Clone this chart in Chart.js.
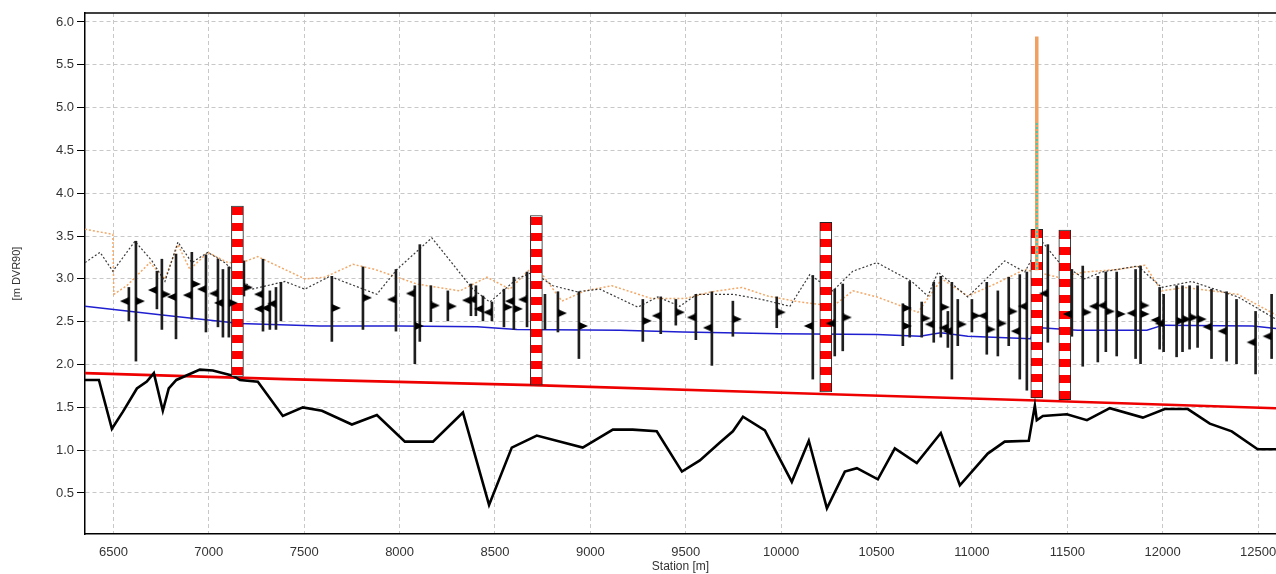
<!DOCTYPE html>
<html>
<head>
<meta charset="utf-8">
<script src="https://cdn.jsdelivr.net/npm/chart.js@4.4.1/dist/chart.umd.min.js"></script>
<style>
  html, body { margin: 0; padding: 0; background: #fff; }
</style>
</head>
<body>
<canvas id="profileChart" width="1276" height="574"></canvas>
<script>
// longitudinal profile, station [m] vs level [m DVR90]
const xTicks = [6500, 7000, 7500, 8000, 8500, 9000, 9500, 10000, 10500, 11000, 11500, 12000, 12500];

// river bed
const bedProfile = [[6351,1.82],[6424,1.82],[6492,1.25],[6550,1.45],[6623,1.72],[6675,1.80],[6712,1.90],[6759,1.46],
  [6790,1.72],[6830,1.82],[6953,1.94],[7021,1.93],[7126,1.87],[7163,1.82],[7257,1.80],[7388,1.40],[7493,1.50],
  [7593,1.46],[7750,1.30],[7881,1.41],[8028,1.10],[8175,1.10],[8332,1.44],[8469,0.36],[8588,1.03],[8719,1.17],
  [8960,1.03],[9118,1.24],[9222,1.24],[9348,1.22],[9480,0.75],[9574,0.88],[9679,1.09],[9747,1.22],[9800,1.39],
  [9915,1.23],[10056,0.63],[10145,1.11],[10240,0.32],[10334,0.75],[10397,0.79],[10507,0.66],[10596,1.02],
  [10711,0.85],[10837,1.20],[10937,0.59],[11083,0.96],[11172,1.10],[11298,1.11],[11330,1.52],[11340,1.35],
  [11372,1.40],[11498,1.42],[11603,1.35],[11723,1.49],[11896,1.38],[12011,1.48],[12132,1.48],[12247,1.31],
  [12362,1.22],[12498,1.01],[12594,1.01]];

// design level (red)
const designLine = [[6351,1.90],[7400,1.83],[8700,1.76],[10000,1.67],[11340,1.58],[12594,1.49]];

// mean water level (blue)
const waterLine = [[6351,2.68],[6744,2.58],[7163,2.48],[7582,2.45],[8002,2.45],[8406,2.44],[8615,2.41],[9155,2.40],
  [9485,2.38],[9994,2.36],[10502,2.35],[10727,2.33],[10837,2.37],[10978,2.33],[11308,2.30],[11323,2.41],
  [11360,2.43],[11554,2.40],[11917,2.40],[12001,2.46],[12472,2.45],[12594,2.42]];

// left bank (orange dotted)
const bankLeft = [[6351,3.58],[6497,3.52],[6502,2.82],[6570,2.92],[6691,3.19],[6770,3.00],[6838,3.40],[6901,3.11],
  [6995,3.31],[7100,3.19],[7173,3.19],[7257,3.26],[7399,3.11],[7503,3.00],[7608,3.02],[7756,3.17],[7871,3.11],
  [8091,2.94],[8316,2.86],[8458,3.02],[8578,2.88],[8709,3.17],[8851,2.74],[8971,2.86],[9113,2.92],[9322,2.77],
  [9495,2.77],[9637,2.85],[9794,2.90],[9930,2.80],[10072,2.74],[10271,2.68],[10376,2.86],[10502,2.79],
  [10717,2.61],[10842,3.00],[10978,2.80],[11120,2.94],[11277,3.11],[11450,3.02],[11591,3.08],[11764,3.11],
  [11906,3.16],[11995,2.86],[12116,2.90],[12394,2.82],[12594,2.58]];

// right bank (black dotted)
const bankRight = [[6351,3.19],[6430,3.31],[6497,3.09],[6613,3.44],[6702,3.21],[6770,2.97],[6838,3.43],[6911,3.19],
  [6995,3.31],[7084,3.19],[7226,2.88],[7399,2.97],[7503,2.88],[7634,3.03],[7881,2.82],[7986,3.11],[8169,3.48],
  [8384,2.88],[8473,2.73],[8615,3.00],[8699,3.08],[8804,2.92],[8929,2.85],[9050,2.88],[9249,2.67],[9354,2.79],
  [9469,2.68],[9558,2.82],[9747,2.82],[9899,2.76],[10046,2.68],[10150,3.05],[10271,2.86],[10376,3.09],
  [10502,3.19],[10685,2.97],[10769,2.80],[10822,3.08],[10978,2.79],[11172,3.21],[11277,3.08],[11366,3.44],
  [11450,3.21],[11591,3.00],[11680,3.08],[11869,3.15],[11995,2.90],[12152,2.97],[12394,2.79],[12594,2.53]];

// structures: station, bottom, top
const structures = [[7150,1.86,3.85],[8717,1.76,3.74],[10234,1.68,3.66],[11340,1.61,3.58],[11487,1.59,3.57]];

// high water marks at 11340
const peakOrange = [[11340,5.83],[11340,3.10]];
const peakTeal = [[11340,4.82],[11340,3.10]];

// measured ranges: station, low, high
const gauges = [[6581,2.51,2.90],[6618,2.04,3.44],[6728,2.65,3.09],[6754,2.41,3.23],[6828,2.30,3.29],[6911,2.53,3.31],
  [6985,2.38,3.28],[7048,2.44,3.23],[7074,2.32,3.11],[7105,2.32,3.14],[7184,2.80,3.21],[7284,2.39,3.23],
  [7320,2.41,2.86],[7352,2.41,2.90],[7378,2.51,2.96],[7645,2.27,3.03],[7808,2.41,3.14],[7981,2.39,3.11],
  [8080,2.01,2.92],[8106,2.27,3.40],[8164,2.50,2.92],[8253,2.51,2.86],[8374,2.57,2.94],[8400,2.57,2.92],
  [8437,2.51,2.80],[8484,2.51,2.73],[8547,2.44,2.88],[8599,2.41,3.02],[8668,2.44,3.08],[8762,2.41,2.82],
  [8830,2.38,2.85],[8940,2.07,2.85],[9275,2.27,2.76],[9369,2.36,2.79],[9448,2.46,2.76],[9553,2.29,2.82],
  [9637,1.99,2.85],[9747,2.33,2.74],[9977,2.43,2.79],[10166,1.83,3.04],[10281,2.10,2.88],[10323,2.16,2.94],
  [10638,2.22,2.71],[10674,2.32,2.97],[10737,2.32,2.73],[10800,2.26,2.96],[10837,2.32,3.03],[10874,2.20,2.62],
  [10895,1.83,2.96],[10926,2.22,2.76],[11000,2.38,2.76],[11078,2.12,2.96],[11136,2.10,2.86],[11193,2.22,3.02],
  [11251,1.83,3.05],[11288,1.70,3.08],[11398,2.26,3.40],[11524,2.33,3.11],[11581,1.98,3.15],[11660,2.03,3.03],
  [11702,2.15,3.08],[11759,2.10,3.08],[11858,2.07,3.11],[11884,2.01,3.15],[11984,2.18,2.90],[12005,2.15,2.82],
  [12073,2.09,2.92],[12104,2.15,2.92],[12141,2.18,2.92],[12183,2.20,2.92],[12256,2.07,2.88],[12335,2.04,2.85],
  [12387,2.01,2.76],[12487,1.89,2.62],[12571,2.07,2.82]];

// flag levels on the gauges
const flagsRight = [[6618,2.74],[6754,2.82],[6911,2.94],[7105,2.72],[7184,2.90],[7645,2.66],[7808,2.78],[8080,2.45],
  [8164,2.69],[8253,2.68],[8547,2.67],[8599,2.65],[8830,2.60],[8940,2.45],[9275,2.51],[9448,2.61],[9747,2.53],
  [9977,2.61],[10323,2.55],[10638,2.66],[10638,2.45],[10737,2.54],[10837,2.67],[10926,2.47],[11000,2.57],
  [11078,2.41],[11136,2.48],[11193,2.62],[11581,2.61],[11702,2.62],[11759,2.59],[11884,2.69],[11884,2.59],
  [12073,2.51],[12104,2.53],[12141,2.55],[12183,2.53]];
const flagsLeft = [[6581,2.74],[6728,2.87],[6828,2.79],[6911,2.81],[6985,2.88],[7048,2.83],[7074,2.72],[7284,2.82],
  [7284,2.65],[7320,2.66],[7352,2.71],[7981,2.76],[8080,2.83],[8374,2.75],[8400,2.76],[8437,2.65],[8484,2.61],
  [8599,2.74],[8668,2.76],[9369,2.57],[9553,2.55],[9637,2.43],[10166,2.45],[10281,2.48],[10800,2.47],[10874,2.43],
  [10895,2.39],[11078,2.57],[11251,2.39],[11288,2.68],[11398,2.83],[11524,2.59],[11660,2.68],[11702,2.69],
  [11858,2.60],[11984,2.52],[12005,2.48],[12256,2.44],[12335,2.39],[12487,2.26],[12571,2.33]];

const pts = arr => arr.map(p => ({ x: p[0], y: p[1] }));

// flag marker: triangle on one side of the centre
function makeFlag(dir) {
  const c = document.createElement('canvas');
  c.width = 20; c.height = 8;
  const g = c.getContext('2d');
  g.fillStyle = '#000';
  g.beginPath();
  if (dir > 0) { g.moveTo(10, 0); g.lineTo(10, 8); g.lineTo(19, 4); }
  else { g.moveTo(10, 0); g.lineTo(10, 8); g.lineTo(1, 4); }
  g.closePath();
  g.fill();
  return c;
}
const flagR = makeFlag(1);
const flagL = makeFlag(-1);

// red/white stripes for structures
const stripeTile = document.createElement('canvas');
stripeTile.width = 4; stripeTile.height = 16;
(function () {
  const g = stripeTile.getContext('2d');
  g.fillStyle = '#ff0000'; g.fillRect(0, 0, 4, 8);
  g.fillStyle = '#ffffff'; g.fillRect(0, 8, 4, 8);
})();

function stripeFill(ctx) {
  const chart = ctx.chart;
  const raw = ctx.raw;
  const pat = chart.ctx.createPattern(stripeTile, 'repeat');
  if (raw && chart.scales.y) {
    const top = chart.scales.y.getPixelForValue(raw.y[1]);
    pat.setTransform(new DOMMatrix().translate(0, Math.round(top) + 1));
  }
  return pat;
}

const topBorder = {
  id: 'topBorder',
  afterDatasetsDraw(chart) {
    const { ctx, chartArea } = chart;
    ctx.save();
    ctx.strokeStyle = '#000';
    ctx.lineWidth = 1.5;
    ctx.beginPath();
    ctx.moveTo(chartArea.left, chartArea.top);
    ctx.lineTo(chartArea.right, chartArea.top);
    ctx.stroke();
    ctx.restore();
  }
};

const font = { family: 'Liberation Sans, Arial, sans-serif', size: 13 };

new Chart(document.getElementById('profileChart'), {
  type: 'line',
  data: {
    datasets: [
      { data: pts(peakTeal), borderColor: '#40c8b0', borderWidth: 2, borderDash: [2, 2], pointRadius: 0 },
      { data: pts(peakOrange), borderColor: '#f0a060', borderWidth: 3.5, pointRadius: 0 },
      { data: pts(flagsRight), showLine: false, pointStyle: flagR, pointRadius: 4 },
      { data: pts(flagsLeft), showLine: false, pointStyle: flagL, pointRadius: 4 },
      {
        type: 'bar', grouped: false, barThickness: 12,
        data: structures.map(s => ({ x: s[0], y: [s[1], s[2]] })),
        backgroundColor: stripeFill, borderColor: '#222', borderWidth: 1, borderSkipped: false
      },
      {
        type: 'bar', grouped: false, barThickness: 2,
        data: gauges.map(g => ({ x: g[0], y: [g[1], g[2]] })),
        backgroundColor: '#1e1e1e', borderWidth: 0
      },
      { data: pts(bedProfile), borderColor: '#000', borderWidth: 2.6, pointRadius: 0 },
      { data: pts(designLine), borderColor: '#ee0000', borderWidth: 2.6, pointRadius: 0 },
      { data: pts(waterLine), borderColor: '#1f1fd0', borderWidth: 1.5, pointRadius: 0 },
      { data: pts(bankRight), borderColor: '#3a3a3a', borderWidth: 1.2, borderDash: [2, 2], pointRadius: 0 },
      { data: pts(bankLeft), borderColor: '#f2a868', borderWidth: 1.5, borderDash: [2, 2], pointRadius: 0 }
    ]
  },
  options: {
    responsive: false,
    animation: false,
    layout: { autoPadding: false, padding: { top: 13, right: 0, left: 0, bottom: 0 } },
    plugins: { legend: { display: false }, tooltip: { enabled: false } },
    elements: { line: { tension: 0, fill: false } },
    scales: {
      x: {
        type: 'linear',
        min: 6351,
        max: 12594,
        offset: false,
        afterFit: s => { s.height = 40; s.paddingLeft = 0; s.paddingRight = 0; },
        afterBuildTicks: s => { s.ticks = xTicks.map(v => ({ value: v })); },
        ticks: {
          autoSkip: false, maxRotation: 0, padding: 0,
          color: '#333', font: font,
          callback: v => String(v)
        },
        grid: { offset: false, color: '#c8c8c8', tickColor: 'rgba(0,0,0,0)', tickLength: 11, lineWidth: 1 },
        border: { color: '#000', width: 1.5, dash: [4, 3] },
        title: {
          display: true, text: 'Station [m]', color: '#333',
          font: { family: font.family, size: 12 }, padding: { top: 0, bottom: 0 }
        }
      },
      y: {
        min: 0.021,
        max: 6.105,
        afterFit: s => { s.width = 85; s.paddingTop = 0; s.paddingBottom = 0; },
        ticks: {
          stepSize: 0.5, includeBounds: false, padding: 3,
          color: '#333', font: font,
          callback: v => Number(v).toFixed(1)
        },
        grid: { offset: false, color: '#c8c8c8', tickColor: '#000', tickLength: 8, lineWidth: 1 },
        border: { color: '#000', width: 1.5, dash: [4, 3] },
        title: {
          display: true, text: '[m DVR90]', color: '#333',
          font: { family: font.family, size: 11 }, padding: { top: 10, bottom: 0 }
        }
      }
    }
  },
  plugins: [topBorder]
});
</script>
</body>
</html>
